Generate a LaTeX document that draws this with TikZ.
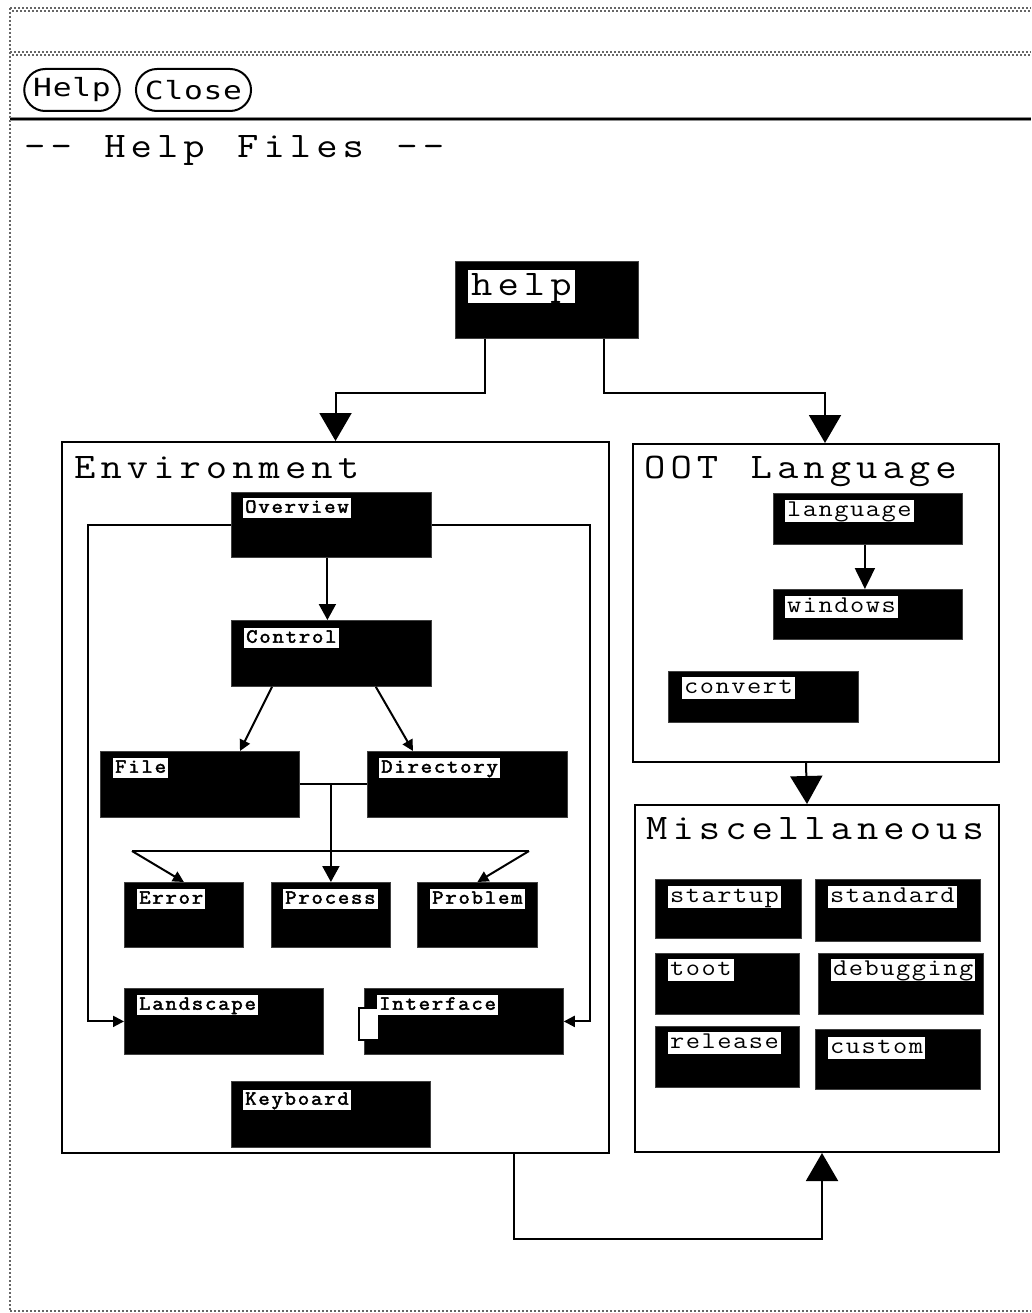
\documentclass[tikz,border=0pt]{standalone}
\usepackage{fontspec}
\usetikzlibrary{arrows.meta,calc}
\newfontfamily\titlefont[FakeStretch=1.15,LetterSpace=14,WordSpace=1.232]{Latin Modern Mono}
\newfontfamily\midfont[FakeStretch=1.15,LetterSpace=6.3]{Latin Modern Mono}
\newfontfamily\smallfont[FakeStretch=1.1,LetterSpace=9.2,FakeBold=2.5]{Latin Modern Mono}
\newfontfamily\buttonfont[LetterSpace=3,FakeStretch=1.25]{DejaVu Sans Mono}

% black tile with its white label in the upper left corner
\newcommand\tile[8]{%
  \node[blk, minimum width=#4pt, minimum height=#5pt] (#1) at (#2,#3) {};
  \node[#7] (#1-t) at ([shift={(#8)}]#1.north west) {#6};}

\begin{document}
\begin{tikzpicture}[x=1pt,y=-1pt,
  blk/.style={fill=black, draw=black!75, line width=0.8pt, inner sep=0pt, anchor=north west},
  grp/.style={draw=black, line width=2pt, inner sep=0pt, anchor=north west},
  lblB/.style={fill=white, inner xsep=3pt, inner ysep=1pt, text height=24pt, text depth=7pt,
    anchor=north west, font=\titlefont\fontsize{36}{38}\selectfont},
  lblM/.style={fill=white, inner xsep=2pt, inner ysep=1pt, text height=15pt, text depth=5pt,
    anchor=north west, font=\midfont\fontsize{24}{26}\selectfont},
  lblS/.style={fill=white, inner xsep=2pt, inner ysep=1.5pt, text height=13pt, text depth=4pt,
    anchor=north west, font=\smallfont\fontsize{20}{22}\selectfont},
  heading/.style={inner sep=0pt, anchor=base west, font=\titlefont\fontsize{36}{38}\selectfont},
  btn/.style={draw=black, line width=2pt, rounded corners=21pt, minimum height=42pt,
    inner xsep=9pt, font=\buttonfont\fontsize{25}{27}\selectfont},
  conn/.style={draw=black, line width=2pt},
  bigtip/.style={-{Triangle[width=32pt,length=28pt]}},
  midtip/.style={-{Triangle[width=17pt,length=16pt]}},
  smltip/.style={-{Triangle[width=11pt,length=11pt]}},
  dots/.style={draw=black!60, line width=2pt, dash pattern=on 2pt off 2pt}]

\useasboundingbox[fill=white] (0,0) rectangle (1031,1313);

% window frame
\draw[dots] (10,8) -- (1031,8);
\draw[dots, dash phase=2pt] (10,11) -- (1031,11);
\draw[dots] (10,52) -- (1031,52);
\draw[dots, dash phase=2pt] (10,55) -- (1031,55);
\draw[dots] (10,8) -- (10,1311);
\draw[dots] (10,1311) -- (1031,1311);
\draw[draw=black!45, line width=4pt] (10,119) -- (1031,119);
\draw[draw=black, line width=1.6pt] (10,119) -- (1031,119);

% buttons and heading
\node[btn] (helpbtn) at (72,90) {Help};
\node[btn] (closebtn) at (193.5,90) {Close};
\node[heading] (title) at (24,158) {-{}- Help Files -{}-};

% root
\tile{help}{455}{261}{183}{77}{help}{lblB}{13,9}

% groups
\node[grp, minimum width=547pt, minimum height=711pt] (env) at (61,441) {};
\node[heading] (env-t) at (74,478) {Environment};
\node[grp, minimum width=366pt, minimum height=318pt] (oot) at (632,443) {};
\node[heading] (oot-t) at (644,478) {OOT Language};
\node[grp, minimum width=364pt, minimum height=347pt] (misc) at (634,804) {};
\node[heading] (misc-t) at (646,839) {Miscellaneous};

% environment topics
\tile{overview}{231}{492}{200}{65}{Overview}{lblS}{12,6}
\tile{control}{231}{620}{200}{66}{Control}{lblS}{13,8}
\tile{file}{100}{751}{199}{66}{File}{lblS}{13,7}
\tile{directory}{367}{751}{200}{66}{Directory}{lblS}{12,7}
\tile{error}{124}{882}{119}{65}{Error}{lblS}{13,7}
\tile{process}{271}{882}{119}{65}{Process}{lblS}{12,7}
\tile{problem}{417}{882}{120}{65}{Problem}{lblS}{13,7}
\tile{landscape}{124}{988}{199}{66}{Landscape}{lblS}{13,7}
\node[blk, minimum width=199pt, minimum height=66pt] (interface) at (364,988) {};
\draw[fill=white, draw=black, line width=1.5pt] (359,1008) rectangle (379,1040);
\node[lblS] (interface-t) at ([shift={(13,7)}]interface.north west) {Interface};
\tile{keyboard}{231}{1081}{199}{66}{Keyboard}{lblS}{12,9}

% language topics
\tile{language}{773}{493}{189}{51}{language}{lblM}{12,7}
\tile{windows}{773}{589}{189}{50}{windows}{lblM}{12,7}
\tile{convert}{668}{671}{190}{51}{convert}{lblM}{14,6}

% miscellaneous topics
\tile{startup}{655}{879}{146}{59}{startup}{lblM}{13,7}
\tile{standard}{815}{879}{165}{62}{standard}{lblM}{13,7}
\tile{toot}{655}{953}{144}{61}{toot}{lblM}{13,6}
\tile{debugging}{818}{953}{165}{61}{debugging}{lblM}{13,6}
\tile{release}{655}{1026}{144}{61}{release}{lblM}{13,6}
\tile{custom}{815}{1029}{165}{60}{custom}{lblM}{13,8}

% connectors between groups
\draw[conn, bigtip] ([xshift=30]help.south west) -- ++(0,54) -| (env.north);
\draw[conn, bigtip] ([xshift=-35]help.south east) -- ++(0,54) -| ([xshift=9]oot.north);
\draw[conn, bigtip] ([xshift=-10]oot.south) -- ([xshift=-10]misc.north);
\draw[conn, bigtip] ([xshift=-96]env.south east) -- ++(0,85) -| ([xshift=5]misc.south);

% connectors inside Environment
\coordinate (leftrail) at (88,0);
\coordinate (rightrail) at (590,0);
\draw[conn, midtip] ([xshift=-4]overview.south) -- ([xshift=-4]control.north);
\draw[conn, smltip] (overview.west) -- (overview.west -| leftrail)
  -- (leftrail |- landscape.west) -- (landscape.west);
\draw[conn, smltip] (overview.east) -- (overview.east -| rightrail)
  -- (rightrail |- interface.east) -- (interface.east);
\draw[conn, smltip] ([xshift=41]control.south west) -- ([xshift=140]file.north west);
\draw[conn, smltip] ([xshift=-56]control.south east) -- ([xshift=46]directory.north west);
\draw[conn] (file.east) -- (directory.west);
\draw[conn, midtip] (process.north |- file.east) -- (process.north);
\coordinate (fanL) at (132,851);
\coordinate (fanR) at (529,851);
\draw[conn] (fanL) -- (fanR);
\draw[conn, smltip] (fanL) -- (error.north);
\draw[conn, smltip] (fanR) -- (problem.north);

% connector inside OOT Language
\draw[conn, -{Triangle[width=20pt,length=21pt]}] ([xshift=-3]language.south) -- ([xshift=-3]windows.north);
\end{tikzpicture}
\end{document}
